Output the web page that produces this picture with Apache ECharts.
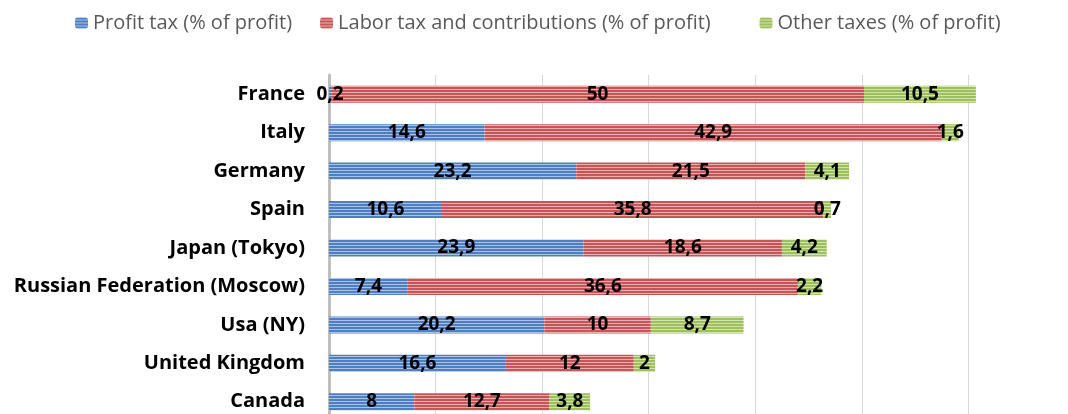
<!DOCTYPE html>
<html>
<head>
<meta charset="utf-8">
<script src="https://cdn.jsdelivr.net/npm/echarts@6/dist/echarts.min.js"></script>
<style>
html, body { margin: 0; padding: 0; background: #fff; overflow: hidden; }
#chart { width: 1076px; height: 421px; }
</style>
</head>
<body>
<div id="chart"></div>
<script>
var countries = ['France', 'Italy', 'Germany', 'Spain', 'Japan (Tokyo)',
	'Russian Federation (Moscow)', 'Usa (NY)', 'United Kingdom', 'Canada'];
var profitTax = [0.2, 14.6, 23.2, 10.6, 23.9, 7.4, 20.2, 16.6, 8];
var laborTax = [50, 42.9, 21.5, 35.8, 18.6, 36.6, 10, 12, 12.7];
var otherTax = [10.5, 1.6, 4.1, 0.7, 4.2, 2.2, 8.7, 2, 3.8];
var seriesNames = ['Profit tax (% of profit)', 'Labor tax and contributions (% of profit)', 'Other taxes (% of profit)'];

// striped fill like the excel pattern
function stripes(dark, light) {
	var c = document.createElement('canvas');
	c.width = 4;
	c.height = 3;
	var ctx = c.getContext('2d');
	ctx.fillStyle = dark;
	ctx.fillRect(0, 0, 4, 3);
	ctx.fillStyle = light;
	ctx.fillRect(0, 2, 4, 1);
	return { image: c, repeat: 'repeat' };
}

var fills = [
	stripes('#4f7fc2', '#a9c3e6'),
	stripes('#c65557', '#eab0b0'),
	stripes('#9dbf5c', '#d2e4ac')
];

function makeSeries(i, data) {
	return {
		name : seriesNames[i],
		type : 'bar',
		stack : 'total',
		barWidth : 17,
		data : data,
		itemStyle : { color : fills[i] },
		label : {
			show : true,
			position : 'inside',
			color : '#000',
			fontWeight : 'bold',
			fontSize : 19,
			fontFamily : 'Open Sans',
			formatter : function(p) {
				return String(p.value).replace('.', ',');
			}
		}
	};
}

var chart = echarts.init(document.getElementById('chart'));
chart.setOption({
	animation : false,
	legend : {
		top : 8,
		left : 70,
		itemWidth : 13,
		itemHeight : 11,
		itemGap : 28,
		textStyle : { color : '#595959', fontSize : 20, fontFamily : 'Open Sans' },
		// the long label is wider in the original font, pad it a bit
		formatter : function(name) {
			return name == seriesNames[1] ? name + '    ' : name;
		},
		data : seriesNames
	},
	grid : { left : 329, right : 1, top : 75, bottom : 0 },
	xAxis : {
		type : 'value',
		min : 0,
		max : 70,
		interval : 10,
		axisLabel : { show : false },
		axisLine : { show : false },
		axisTick : { show : false },
		splitLine : { lineStyle : { color : '#d9d9d9', width : 1 } }
	},
	yAxis : {
		type : 'category',
		inverse : true,
		data : countries,
		axisLine : { show : true, lineStyle : { color : '#bfbfbf', width : 3 } },
		axisTick : { show : false },
		axisLabel : {
			color : '#000',
			fontWeight : 'bold',
			fontSize : 20,
			fontFamily : 'Open Sans',
			margin : 24
		}
	},
	series : [
		makeSeries(0, profitTax),
		makeSeries(1, laborTax),
		makeSeries(2, otherTax)
	]
});
</script>
</body>
</html>
